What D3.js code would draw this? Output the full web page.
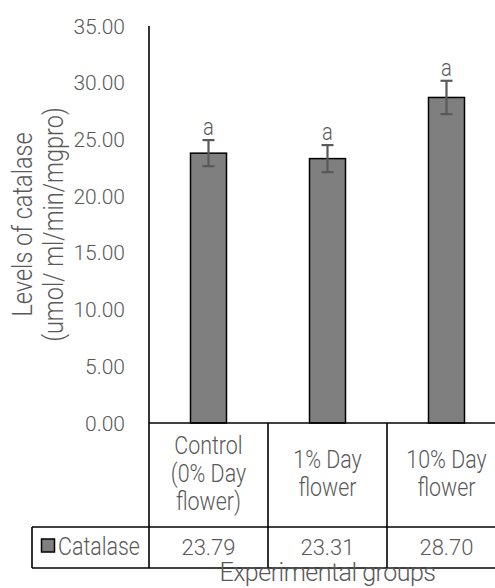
<!DOCTYPE html>
<html>
<head>
<meta charset="utf-8">
<script src="https://cdnjs.cloudflare.com/ajax/libs/d3/7.8.5/d3.min.js"></script>
<style>
  html, body { margin: 0; padding: 0; background: #fff; overflow: hidden; }
  svg { display: block; }
  text { font-family: Roboto, "Liberation Sans", sans-serif; font-weight: 300; fill: #595959; }
</style>
</head>
<body>
<div id="chart"></div>
<script>
// data
var categories = [["Control", "(0% Day", "flower)"], ["1% Day", "flower"], ["10% Day", "flower"]];
var catalase = [23.79, 23.31, 28.70];
var errors = [1.15, 1.19, 1.47];
var letters = ["a", "a", "a"];
var yTicks = [0, 5, 10, 15, 20, 25, 30, 35];
var seriesName = "Catalase";

var W = 495, H = 588;
var svg = d3.select("#chart").append("svg")
  .attr("width", W)
  .attr("height", H);

var x = d3.scaleBand()
  .domain(d3.range(categories.length))
  .range([149, 506])
  .paddingInner(0);

var y = d3.scaleLinear()
  .domain([0, 35])
  .range([423, 26]);

var barW = 36;
var tableTop = 423, rowTop = 527, tableBottom = 568, legendLeft = 32;
var narrow = 0.84; // the word labels in the source use a condensed face

// text squeezed along its own direction
function squeezed(parent, tx, ty, rot, size, anchor, str) {
  return parent.append("text")
    .attr("transform", "translate(" + tx + "," + ty + ")" + (rot ? " rotate(" + rot + ")" : "") + " scale(" + narrow + ",1)")
    .attr("text-anchor", anchor)
    .style("font-size", size + "px")
    .text(str);
}

// tick labels
svg.append("g")
  .selectAll("text")
  .data(yTicks)
  .enter().append("text")
    .attr("x", 125)
    .attr("y", function(d) { return y(d) + 7.5; })
    .attr("text-anchor", "end")
    .style("font-size", "21px")
    .text(function(d) { return d3.format(".2f")(d); });

// bars
svg.append("g")
  .selectAll("rect")
  .data(catalase)
  .enter().append("rect")
    .attr("x", function(d, i) { return x(i) + x.bandwidth() / 2 - barW / 2; })
    .attr("y", function(d) { return y(d); })
    .attr("width", barW)
    .attr("height", function(d) { return y(0) - y(d); })
    .attr("fill", "#7f7f7f")
    .attr("stroke", "#000")
    .attr("stroke-width", 1.5);

// error bars
var err = svg.append("g")
  .attr("stroke", "#595959")
  .attr("stroke-width", 2.2);
catalase.forEach(function(d, i) {
  var cx = x(i) + x.bandwidth() / 2;
  err.append("line")
    .attr("x1", cx).attr("x2", cx)
    .attr("y1", y(d + errors[i])).attr("y2", y(d - errors[i]));
  [d + errors[i], d - errors[i]].forEach(function(v) {
    err.append("line")
      .attr("x1", cx - 6).attr("x2", cx + 6)
      .attr("y1", y(v)).attr("y2", y(v));
  });
  squeezed(svg, cx, y(d + errors[i]) - 5, 0, 24, "middle", letters[i]);
});

// axis line and data table
var grid = svg.append("g")
  .attr("stroke", "#000")
  .attr("stroke-width", 1.6);
grid.append("line")
  .attr("x1", x.range()[0]).attr("x2", x.range()[0])
  .attr("y1", y(35)).attr("y2", tableBottom);
grid.append("line")
  .attr("x1", x.range()[0]).attr("x2", x.range()[1])
  .attr("y1", tableTop).attr("y2", tableTop);
grid.append("line")
  .attr("x1", legendLeft).attr("x2", x.range()[1])
  .attr("y1", rowTop).attr("y2", rowTop);
grid.append("line")
  .attr("x1", legendLeft).attr("x2", x.range()[1])
  .attr("y1", tableBottom).attr("y2", tableBottom);
grid.append("line")
  .attr("x1", legendLeft).attr("x2", legendLeft)
  .attr("y1", rowTop).attr("y2", tableBottom);
categories.forEach(function(c, i) {
  grid.append("line")
    .attr("x1", x(i) + x.bandwidth()).attr("x2", x(i) + x.bandwidth())
    .attr("y1", tableTop).attr("y2", tableBottom);
});

// category labels
var midCat = (tableTop + rowTop) / 2;
categories.forEach(function(lines, i) {
  lines.forEach(function(l, j) {
    squeezed(svg, x(i) + x.bandwidth() / 2,
      midCat - (lines.length - 1) * 14 + j * 28 + 7, 0, 25.5, "middle", l);
  });
});

// values row
var midRow = (rowTop + tableBottom) / 2;
svg.append("g")
  .selectAll("text")
  .data(catalase)
  .enter().append("text")
    .attr("x", function(d, i) { return x(i) + x.bandwidth() / 2; })
    .attr("y", midRow + 7.5)
    .attr("text-anchor", "middle")
    .style("font-size", "22px")
    .text(function(d) { return d3.format(".2f")(d); });

// legend key
svg.append("rect")
  .attr("x", 41.5).attr("y", 539)
  .attr("width", 13).attr("height", 13)
  .attr("fill", "#7f7f7f")
  .attr("stroke", "#000")
  .attr("stroke-width", 1.5);
squeezed(svg, 58, midRow + 7.5, 0, 25.5, "start", seriesName);

// axis titles
var yMid = (y.range()[0] + y.range()[1]) / 2;
squeezed(svg, 32, yMid, -90, 28, "middle", "Levels of catalase");
squeezed(svg, 63, yMid, -90, 28, "middle", "(umol/ ml/min/mgpro)");

svg.append("text")
  .attr("x", (x.range()[0] + x.range()[1]) / 2)
  .attr("y", 581)
  .attr("text-anchor", "middle")
  .style("font-size", "25px")
  .style("letter-spacing", "-0.5px")
  .text("Experimental groups");
</script>
</body>
</html>
